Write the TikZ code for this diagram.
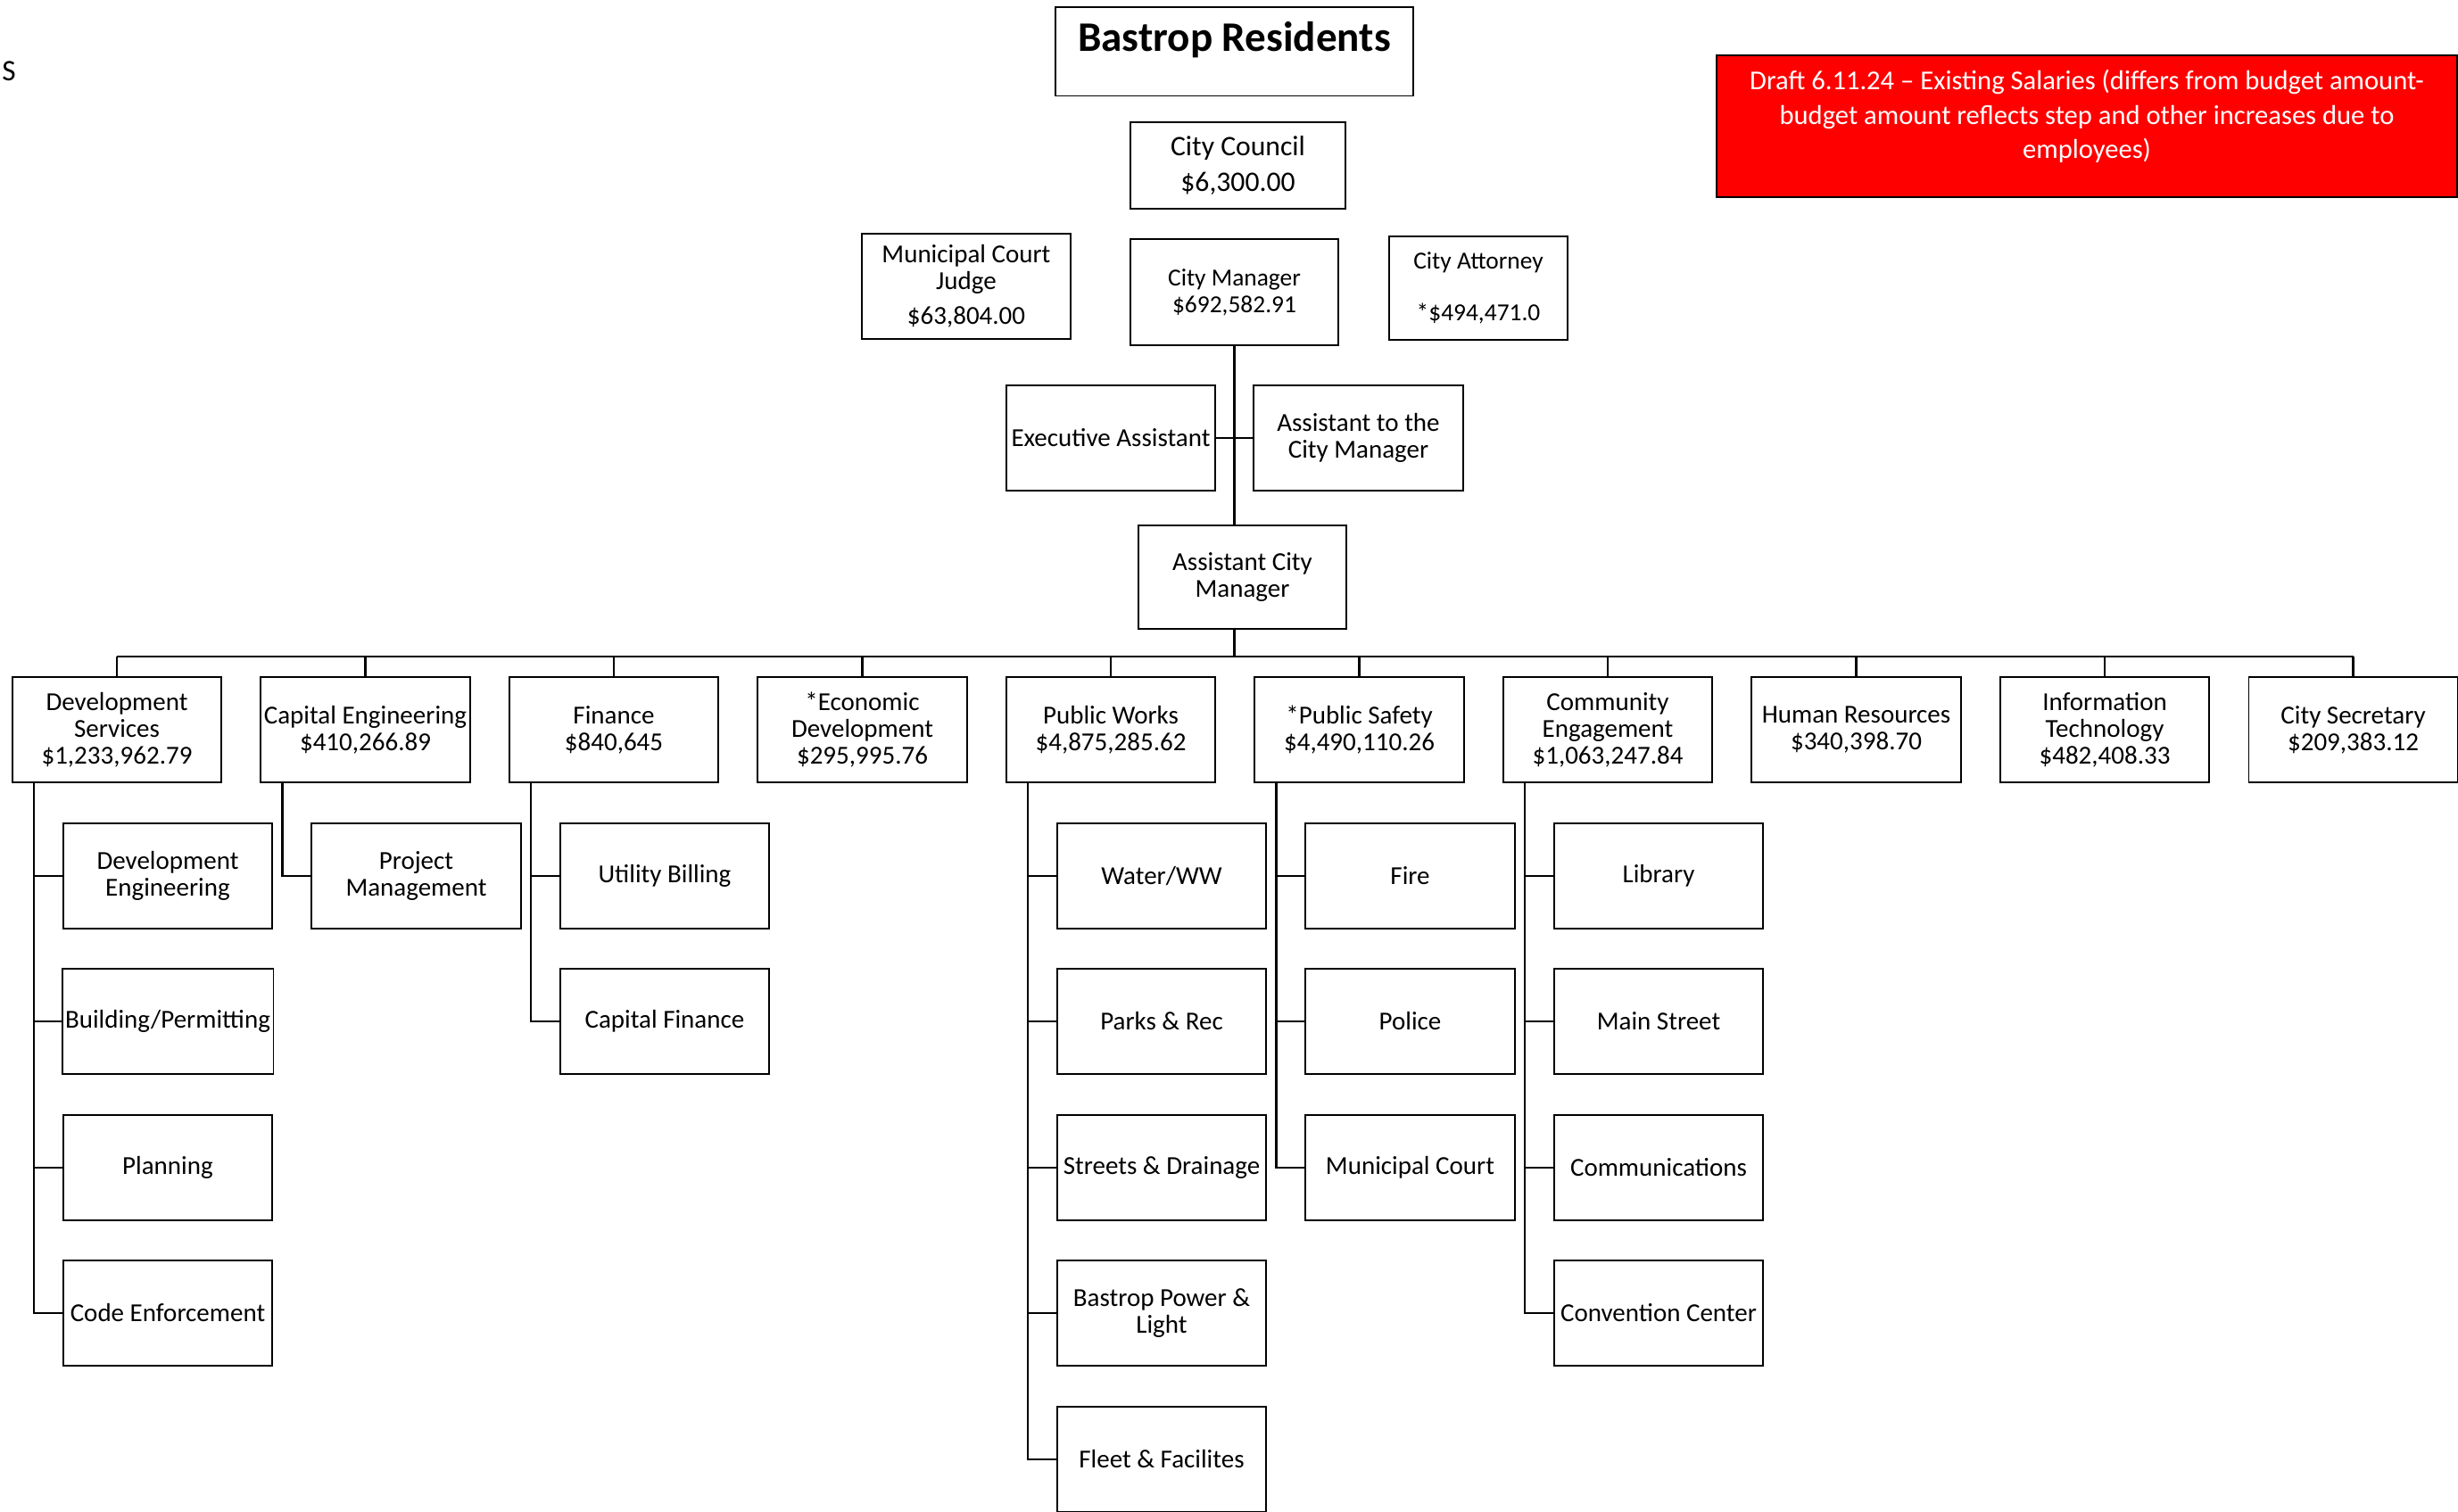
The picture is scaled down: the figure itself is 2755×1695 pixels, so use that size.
\documentclass[tikz,border=0pt]{standalone}
\usepackage{fontspec}
\setmainfont{Carlito}
\begin{document}
\begin{tikzpicture}[x=0.01cm,y=-0.01cm]
\tikzset{
 box/.style={draw, line width=0.55pt, fill=white, minimum width=2.34cm, minimum height=1.18cm, inner sep=1pt, align=center, font=\fontsize{8.25pt}{8.5pt}\selectfont},
 smalltext/.style={font=\fontsize{7.8pt}{8.5pt}\selectfont},
 busline/.style={line width=0.85pt},
 dropline/.style={line width=0.6pt},
 trunkline/.style={line width=0.75pt},
 stubline/.style={line width=0.65pt},
}
\fill[white] (0,0) rectangle (2755,1695);
\useasboundingbox (0,0) rectangle (2755,1695);

\node[font=\fontsize{9.5pt}{10pt}\selectfont, inner sep=0pt] (s) at (10,80) {S};

% top
\node[box, minimum width=4cm, minimum height=0.99cm, font=\bfseries\fontsize{13.4pt}{15pt}\selectfont, text height=0.35cm, text depth=0.35cm] (res) at (1383.5,58) {Bastrop Residents};
\node[draw, line width=0.55pt, fill=red, text=white, minimum width=8.3cm, minimum height=1.59cm, inner sep=1pt, align=center, font=\fontsize{8.7pt}{11pt}\selectfont, text depth=7.6pt] (draft) at (2339,141.5) {Draft 6.11.24 -- Existing Salaries (differs from budget amount-\\budget amount reflects step and other increases due to\\employees)};

\node[box, minimum width=2.41cm, minimum height=0.97cm, font=\fontsize{9pt}{10pt}\selectfont] (cc) at (1387.5,185.5) {City Council\\[1.4pt]\$6,300.00};
\node[box] (mcj) at (1083,321) {Municipal Court\\Judge\\[2.7pt]\$63,804.00};
\node[box, smalltext, minimum width=2.33cm, minimum height=1.19cm] (cm) at (1383.5,327.5) {City Manager\\\$692,582.91};
\node[box, smalltext, minimum width=2.0cm, minimum height=1.16cm] (ca) at (1657,323) {City Attorney\\[8.1pt]*\$494,471.0};
\node[box] (ea) at (1245,491) {Executive Assistant};
\node[box] (atcm) at (1522.5,491) {Assistant to the\\City Manager};
\node[box, minimum width=2.33cm, minimum height=1.16cm] (acm) at (1392.5,647) {Assistant City\\Manager};

% level 2
\node[box] (d1) at (131,818) {Development\\Services\\\$1,233,962.79};
\node[box] (d2) at (409.5,818) {Capital Engineering\\\$410,266.89};
\node[box] (d3) at (688,818) {Finance\\\$840,645};
\node[box] (d4) at (966.5,818) {*Economic\\Development\\\$295,995.76};
\node[box] (d5) at (1245,818) {Public Works\\\$4,875,285.62};
\node[box] (d6) at (1523.5,818) {*Public Safety\\\$4,490,110.26};
\node[box] (d7) at (1802,818) {Community\\Engagement\\\$1,063,247.84};
\node[box] (d8) at (2080.5,818) {Human Resources\\\$340,398.70};
\node[box] (d9) at (2359,818) {Information\\Technology\\\$482,408.33};
\node[box] (d10) at (2637.5,818) {City Secretary\\\$209,383.12};

% sub boxes
\node[box] (s11) at (188,982) {Development\\Engineering};
\node[box] (s12) at (188,1145) {Building/Permitting};
\node[box] (s13) at (188,1309) {Planning};
\node[box] (s14) at (188,1472) {Code Enforcement};
\node[box] (s21) at (466.5,982) {Project\\Management};
\node[box] (s31) at (745,982) {Utility Billing};
\node[box] (s32) at (745,1145) {Capital Finance};
\node[box] (s51) at (1302,982) {Water/WW};
\node[box] (s52) at (1302,1145) {Parks \& Rec};
\node[box] (s53) at (1302,1309) {Streets \& Drainage};
\node[box] (s54) at (1302,1472) {Bastrop Power \&\\Light};
\node[box] (s55) at (1302,1636) {Fleet \& Facilites};
\node[box] (s61) at (1580.5,982) {Fire};
\node[box] (s62) at (1580.5,1145) {Police};
\node[box] (s63) at (1580.5,1309) {Municipal Court};
\node[box] (s71) at (1859,982) {Library};
\node[box] (s72) at (1859,1145) {Main Street};
\node[box] (s73) at (1859,1309) {Communications};
\node[box] (s74) at (1859,1472) {Convention Center};

% connectors top
\coordinate (bus) at (1384,736);
\draw[trunkline] (cm.south) -- (cm.south |- acm.north);
\draw[trunkline] (cm.south |- acm.south) -- (cm.south |- bus);
\draw[stubline] (ea.east) -- (atcm.west);

% bus
\draw[busline] (d1.north |- bus) -- (d10.north |- bus);
\foreach \d in {d1,d2,d3,d4,d5,d6,d7,d8,d9,d10}{
  \draw[dropline] (\d.north) -- (\d.north |- bus);
}

% trunks
\coordinate (t1) at ([xshift=-0.93cm]d1.south);
\coordinate (t2) at ([xshift=-0.93cm]d2.south);
\coordinate (t3) at ([xshift=-0.93cm]d3.south);
\coordinate (t5) at ([xshift=-0.93cm]d5.south);
\coordinate (t6) at ([xshift=-0.93cm]d6.south);
\coordinate (t7) at ([xshift=-0.93cm]d7.south);
\draw[trunkline] (t1) |- (s14.west);
\draw[trunkline] (t2) |- (s21.west);
\draw[trunkline] (t3) |- (s32.west);
\draw[trunkline] (t5) |- (s55.west);
\draw[trunkline] (t6) |- (s63.west);
\draw[trunkline] (t7) |- (s74.west);
\foreach \c/\t in {s11/t1,s12/t1,s13/t1,s31/t3,s51/t5,s52/t5,s53/t5,s54/t5,s61/t6,s62/t6,s71/t7,s72/t7,s73/t7}{
  \draw[stubline] (\c.west) -- (\c.west -| \t);
}
\end{tikzpicture}
\end{document}
